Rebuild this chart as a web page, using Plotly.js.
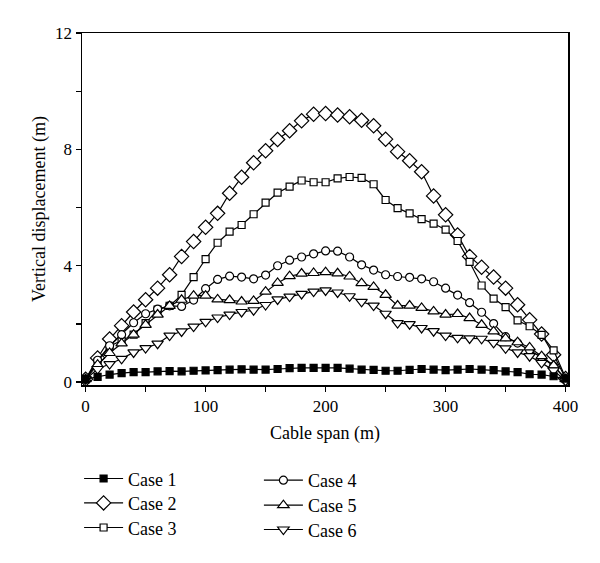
<!DOCTYPE html>
<html>
<head>
<meta charset="utf-8">
<script src="https://cdn.plot.ly/plotly-3.0.1.min.js"></script>
<style>html,body{margin:0;padding:0;background:#fff;}#chart{width:600px;height:563px;}</style>
</head>
<body>
<div id="chart"></div>
<script>
var span = [0,10,20,30,40,50,60,70,80,90,100,110,120,130,140,150,160,170,180,190,200,
            210,220,230,240,250,260,270,280,290,300,310,320,330,340,350,360,370,380,390,400];

var case1 = [0.10,0.18,0.26,0.31,0.34,0.34,0.37,0.38,0.37,0.39,0.40,0.41,0.43,0.44,0.43,0.43,0.45,0.48,0.49,0.49,0.49,
             0.49,0.46,0.43,0.42,0.39,0.39,0.42,0.45,0.43,0.41,0.43,0.45,0.43,0.41,0.37,0.34,0.27,0.26,0.20,0.12];
var case2 = [0.10,0.83,1.48,1.94,2.41,2.83,3.23,3.69,4.32,4.83,5.32,5.80,6.49,7.04,7.54,7.95,8.34,8.64,8.98,9.21,9.23,
             9.18,9.12,9.00,8.81,8.35,7.92,7.61,7.23,6.40,5.75,5.06,4.32,3.95,3.61,3.23,2.66,2.14,1.65,0.94,0.12];
var case3 = [0.10,0.70,1.23,1.42,1.63,2.03,2.49,2.62,3.00,3.61,4.23,4.79,5.17,5.40,5.77,6.17,6.51,6.72,6.93,6.87,6.87,
             7.00,7.05,7.02,6.80,6.26,5.98,5.80,5.60,5.45,5.24,4.85,4.13,3.32,2.87,2.58,2.12,1.92,1.62,1.09,0.15];
var case4 = [0.10,0.75,1.25,1.63,2.04,2.35,2.51,2.62,2.60,2.82,3.21,3.53,3.64,3.61,3.55,3.68,4.00,4.19,4.30,4.41,4.51,
             4.50,4.30,4.03,3.85,3.69,3.63,3.60,3.55,3.45,3.23,2.99,2.73,2.40,2.01,1.56,1.34,1.10,0.85,0.55,0.10];
var case5 = [0.10,0.60,1.00,1.33,1.63,1.97,2.32,2.62,2.83,2.97,2.97,2.84,2.82,2.77,2.79,3.11,3.41,3.64,3.73,3.75,3.78,
             3.74,3.63,3.40,3.27,3.00,2.63,2.63,2.55,2.43,2.32,2.34,2.20,1.97,1.74,1.50,1.37,1.19,0.89,0.57,0.10];
var case6 = [0.10,0.45,0.62,0.80,1.02,1.17,1.32,1.60,1.74,1.91,2.07,2.22,2.32,2.41,2.47,2.65,2.84,2.94,3.03,3.11,3.15,
             3.08,2.95,2.76,2.63,2.35,2.03,1.99,1.86,1.75,1.60,1.52,1.50,1.49,1.35,1.16,1.02,0.89,0.66,0.40,0.05];

var seriesNames = ['Case 1','Case 2','Case 3','Case 4','Case 5','Case 6'];

var xTickVals = [0,50,100,150,200,250,300,350,400];
var xTickText = ['0','','100','','200','','300','','400'];
var yTickVals = [0,2,4,6,8,10,12];
var yTickText = ['0','','4','','8','','12'];

var FONT = 'Liberation Serif, Times New Roman, serif';

var styles = [
  {symbol:'square', size:7, fill:'#000'},
  {symbol:'diamond', size:11, fill:'#fff'},
  {symbol:'square', size:7, fill:'#fff'},
  {symbol:'circle', size:8, fill:'#fff'},
  {symbol:'triangle-up', size:10, fill:'#fff'},
  {symbol:'triangle-down', size:10, fill:'#fff'}
];
var allY = [case1, case2, case3, case4, case5, case6];
var legendIds = ['legend','legend2','legend3','legend4','legend5','legend6'];

var traces = allY.map(function(yv, i){
  var s = styles[i];
  return {
    x: span, y: yv, name: seriesNames[i], type:'scatter', mode:'lines+markers',
    legend: legendIds[i],
    line:{color:'#000', width:1.2},
    marker:{symbol:s.symbol, size:s.size, color:s.fill, line:{color:'#000', width:1.2}}
  };
});
// draw order: Case 1 on top
traces = [traces[1], traces[2], traces[3], traces[4], traces[5], traces[0]];

var axisCommon = {
  showline:true, linecolor:'#000', linewidth:1.5, mirror:true,
  ticks:'outside', ticklen:5, tickwidth:1.2, tickcolor:'#000',
  showgrid:false, zeroline:false,
  tickfont:{family:FONT, size:17, color:'#000'}
};

function legendAt(x, y){
  return {
    xref:'paper', yref:'paper', x:x, y:y, xanchor:'left', yanchor:'top',
    orientation:'v', itemwidth:39,
    font:{family:FONT, size:18, color:'#000'}, bgcolor:'rgba(0,0,0,0)'
  };
}

var layout = {
  width:600, height:563,
  margin:{l:82, r:32, t:33, b:178},
  paper_bgcolor:'#fff', plot_bgcolor:'#fff',
  font:{family:FONT, color:'#000'},
  showlegend:true,
  xaxis: Object.assign({}, axisCommon, {
    range:[-3, 402], tickmode:'array', tickvals:xTickVals, ticktext:xTickText,
    title:{text:'Cable span (m)', font:{family:FONT, size:18, color:'#000'}, standoff:11}
  }),
  yaxis: Object.assign({}, axisCommon, {
    range:[-0.1, 12], tickmode:'array', tickvals:yTickVals, ticktext:yTickText,
    title:{text:'Vertical displacement (m)', font:{family:FONT, size:18, color:'#000'}, standoff:5}
  }),
  legend: legendAt(-0.006, -0.2139),
  legend2: legendAt(-0.006, -0.2832),
  legend3: legendAt(-0.006, -0.3531),
  legend4: legendAt(0.364, -0.2188),
  legend5: legendAt(0.364, -0.2898),
  legend6: legendAt(0.364, -0.3588)
};

Plotly.newPlot('chart', traces, layout, {displayModeBar:false, staticPlot:true});
</script>
</body>
</html>
